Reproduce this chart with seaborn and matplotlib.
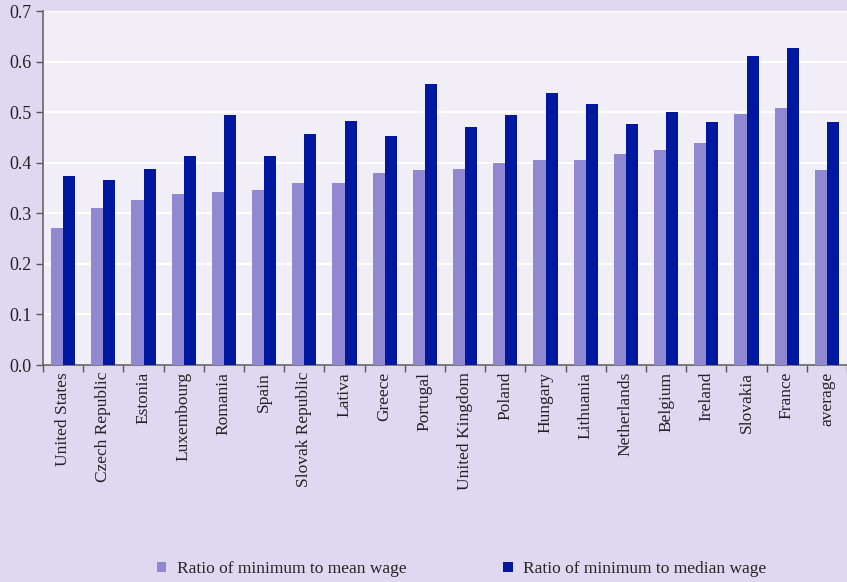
import matplotlib
matplotlib.use("Agg")
import matplotlib.pyplot as plt
import seaborn as sns
import pandas as pd

# Data
countries = ["United States", "Czech Republic", "Estonia", "Luxembourg", "Romania",
             "Spain", "Slovak Republic", "Lativa", "Greece", "Portugal",
             "United Kingdom", "Poland", "Hungary", "Lithuania", "Netherlands",
             "Belgium", "Ireland", "Slovakia", "France", "average"]
mean_ratio = [0.270, 0.311, 0.327, 0.339, 0.343, 0.347, 0.359, 0.359, 0.379, 0.385,
              0.387, 0.399, 0.405, 0.405, 0.417, 0.425, 0.439, 0.496, 0.508, 0.385]
median_ratio = [0.373, 0.365, 0.387, 0.414, 0.495, 0.414, 0.456, 0.482, 0.452, 0.555,
                0.470, 0.495, 0.537, 0.516, 0.476, 0.500, 0.480, 0.611, 0.627, 0.480]
series_names = ["Ratio of minimum to mean wage", "Ratio of minimum to median wage"]
y_ticks = [0.0, 0.1, 0.2, 0.3, 0.4, 0.5, 0.6, 0.7]

df = pd.DataFrame({
    "country": countries * 2,
    "value": mean_ratio + median_ratio,
    "series": [series_names[0]] * len(countries) + [series_names[1]] * len(countries),
})

sns.set_style("white")
plt.rcParams["font.family"] = ["Liberation Serif", "DejaVu Serif"]

fig = plt.figure(figsize=(8.47, 5.82), dpi=100)
fig.patch.set_facecolor("#E0D8F0")
ax = fig.add_axes([43 / 847, 1 - 365 / 582, 1 - 43 / 847, (365 - 11) / 582])
ax.set_facecolor("#F2EEF8")

palette = {series_names[0]: "#9088D0", series_names[1]: "#0018A0"}
sns.barplot(data=df, x="country", y="value", hue="series", palette=palette,
            width=0.6, gap=0, saturation=1, linewidth=0, ax=ax, legend=True, zorder=3)

ax.set_ylim(0, 0.7)
ax.set_xlim(-0.5, len(countries) - 0.5)
ax.set_yticks(y_ticks)
ax.set_yticklabels([f"{t:.1f}" for t in y_ticks])
ax.yaxis.grid(True, color="white", linewidth=1.5, zorder=0)
ax.set_axisbelow(True)

# tick marks between categories
ax.set_xticks([i - 0.5 for i in range(len(countries) + 1)], minor=True)
ax.tick_params(axis="x", which="major", bottom=True, length=0, pad=5, labelsize=12.5, rotation=90)
ax.tick_params(axis="x", which="minor", bottom=True, length=5, width=1, color="#555555", direction="out")
ax.tick_params(axis="y", left=True, length=5, width=1, color="#555555", direction="out", labelsize=13, pad=3)
ax.tick_params(which="both", labelcolor="#222222")
for lab in ax.get_xticklabels():
    lab.set_verticalalignment("top")

ax.set_xlabel("")
ax.set_ylabel("")
for side in ["top", "right"]:
    ax.spines[side].set_visible(False)
for side in ["left", "bottom"]:
    ax.spines[side].set_color("#666666")
    ax.spines[side].set_linewidth(1.2)

handles, labels = ax.get_legend_handles_labels()
ax.get_legend().remove()
fig.legend(handles, labels, loc="center left", bbox_to_anchor=(141 / 847, 1 - 569 / 582),
           ncol=2, frameon=False, fontsize=12.5, handlelength=0.55, handleheight=0.55,
           handletextpad=0.6, columnspacing=5.6)

fig.savefig("out.png", dpi=100, facecolor=fig.get_facecolor())
